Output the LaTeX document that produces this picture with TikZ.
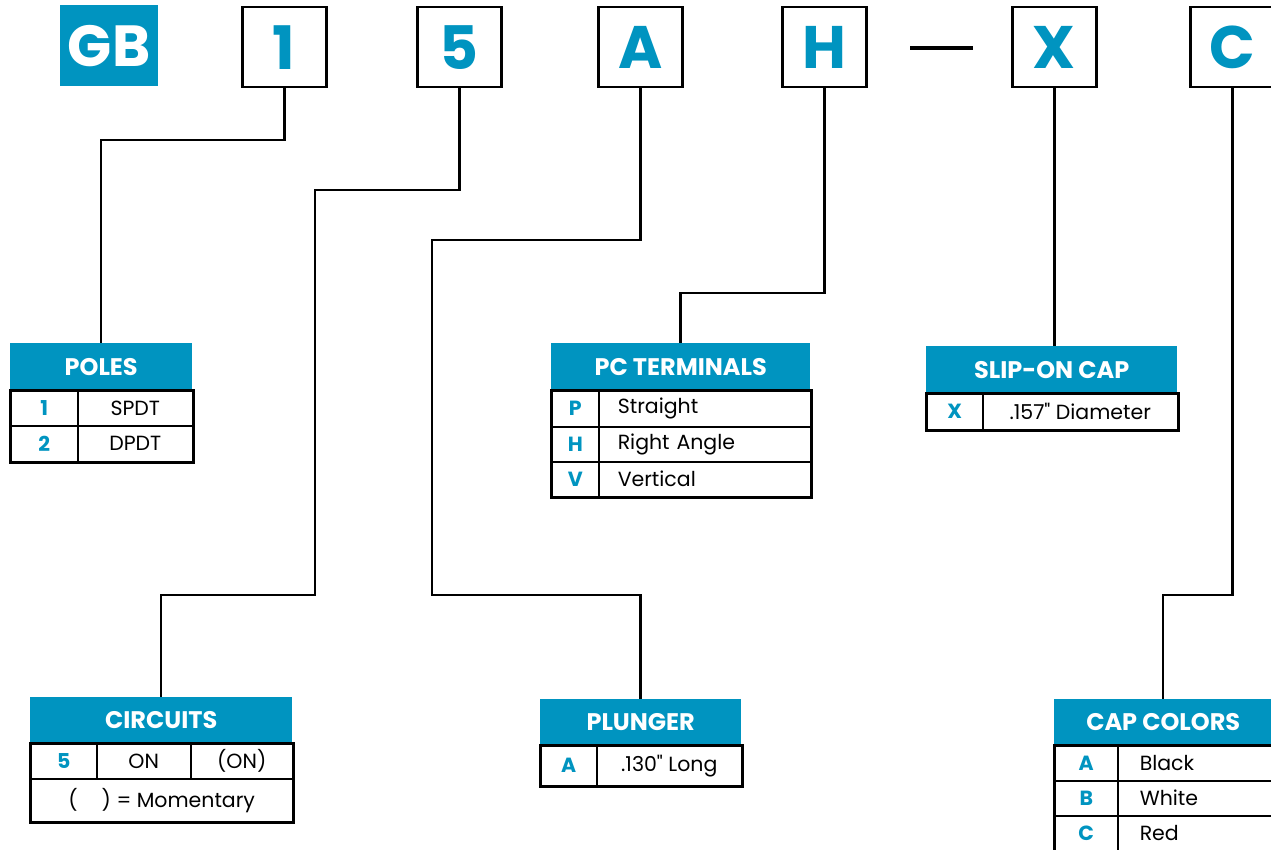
\documentclass[tikz,border=0pt]{standalone}
\usepackage{fontspec}
\setmainfont{Poppins}
\newfontfamily\plainq{Poppins}
\definecolor{gbblue}{HTML}{0094C0}
\tikzset{
 topbox/.style={draw=black, line width=2.5pt, minimum width=84pt, minimum height=80pt, inner sep=0pt, font=\fontsize{60}{60}\selectfont\bfseries, text=gbblue, anchor=north west},
 hdr/.style={fill=gbblue, text=white, inner sep=0pt, anchor=north west, font=\fontsize{24}{24}\selectfont\bfseries},
 cell/.style={draw=black, line width=1.5pt, inner sep=0pt, anchor=north west, font=\fontsize{20.5}{20.5}\selectfont},
 keycell/.style={cell, text=gbblue, font=\fontsize{20.5}{20.5}\selectfont\bfseries},
 valL/.style={cell, inner xsep=#1, align=left},
 outer/.style={draw=black, line width=2.5pt},
 conn/.style={draw=black, line width=2.5pt, line join=miter},
}
\begin{document}
\begin{tikzpicture}[x=1pt,y=-1pt]
\useasboundingbox (0,0) rectangle (1271,850);
% top code boxes
\node[fill=gbblue, text=white, minimum width=98pt, minimum height=81pt, inner sep=0pt, anchor=north west, font=\fontsize{58}{58}\selectfont\bfseries] (gb) at (60,5) {GB};
\node[topbox] (b1) at (241,6) {1};
\node[topbox] (b5) at (416,6) {5};
\node[topbox] (bA) at (597,6) {A};
\node[topbox] (bH) at (781,6) {H};
\node[topbox] (bX) at (1011,6) {X};
\node[topbox] (bC) at (1189,6) {C};
\draw[line width=4.5pt] (910,48) -- (973,48);

% POLES
\node[hdr, minimum width=182pt, minimum height=47pt] (poles) at (10,343) {POLES};
\node[keycell, minimum width=67pt, minimum height=35pt] (p1k) at (10,390) {1};
\node[cell, minimum width=115pt, minimum height=35pt] (p1v) at (77,390) {SPDT};
\node[keycell, minimum width=67pt, minimum height=36pt] (p2k) at (10,425) {2};
\node[cell, minimum width=115pt, minimum height=36pt] (p2v) at (77,425) {DPDT};
\draw[outer] (poles.south west) rectangle (p2v.south east);

% PC TERMINALS
\node[hdr, minimum width=259pt, minimum height=47pt] (pct) at (551,343) {PC TERMINALS};
\node[keycell, minimum width=47pt, minimum height=36pt] (t1k) at (551,390) {P};
\node[valL=19pt, text width=174pt, minimum height=36pt] (t1v) at (598,390) {Straight};
\node[keycell, minimum width=47pt, minimum height=35pt] (t2k) at (551,426) {H};
\node[valL=19pt, text width=174pt, minimum height=35pt] (t2v) at (598,426) {Right Angle};
\node[keycell, minimum width=47pt, minimum height=35pt] (t3k) at (551,461) {V};
\node[valL=19pt, text width=174pt, minimum height=35pt] (t3v) at (598,461) {Vertical};
\draw[outer] (pct.south west) rectangle (t3v.south east);

% SLIP-ON CAP
\node[hdr, minimum width=251pt, minimum height=47pt] (slip) at (926,346) {SLIP-ON CAP};
\node[keycell, minimum width=56pt, minimum height=36pt] (s1k) at (926,393) {X};
\node[cell, minimum width=195pt, minimum height=36pt] (s1v) at (982,393) {.157{\plainq"} Diameter};
\draw[outer] (slip.south west) rectangle (s1v.south east);

% CIRCUITS
\node[hdr, minimum width=262pt, minimum height=46pt] (circ) at (30,697) {CIRCUITS};
\node[keycell, minimum width=66pt, minimum height=35pt] (c1k) at (30,743) {5};
\node[cell, minimum width=94pt, minimum height=35pt] (c1a) at (96,743) {ON};
\node[cell, minimum width=102pt, minimum height=35pt] (c1b) at (190,743) {(ON)};
\node[cell, minimum width=262pt, minimum height=43pt] (c2) at (30,778) {(\hspace{24pt}) = Momentary};
\draw[outer] (circ.south west) rectangle (c2.south east);

% PLUNGER
\node[hdr, minimum width=201pt, minimum height=46pt] (plg) at (540,699) {PLUNGER};
\node[keycell, minimum width=56pt, minimum height=40pt] (g1k) at (540,745) {A};
\node[cell, minimum width=145pt, minimum height=40pt] (g1v) at (596,745) {.130{\plainq"} Long};
\draw[outer] (plg.south west) rectangle (g1v.south east);

% CAP COLORS
\node[hdr, minimum width=218pt, minimum height=46pt] (capc) at (1054,699) {CAP COLORS};
\node[keycell, minimum width=63pt, minimum height=35pt] (k1k) at (1054,745) {A};
\node[valL=22pt, text width=111pt, minimum height=35pt] (k1v) at (1117,745) {Black};
\node[keycell, minimum width=63pt, minimum height=35pt] (k2k) at (1054,780) {B};
\node[valL=22pt, text width=111pt, minimum height=35pt] (k2v) at (1117,780) {White};
\node[keycell, minimum width=63pt, minimum height=35pt] (k3k) at (1054,815) {C};
\node[valL=22pt, text width=111pt, minimum height=35pt] (k3v) at (1117,815) {Red};
\draw[outer] (capc.south west) rectangle (k3v.south east);

% connectors
\draw[conn] (b1.south) |- (102,140) -| (poles.north);
\draw[conn] (b5.south) |- (315,190) -- (315,595) -| (circ.north);
\draw[conn] (bA.south) |- (432,240) -- (432,595) -| (plg.north);
\draw[conn] (bH.south) |- (681,293) -| (pct.north);
\draw[conn] (bX.south) -- (bX.south |- slip.north);
\draw[conn] (bC.south) |- (1162,595) -| (capc.north);
\end{tikzpicture}
\end{document}
